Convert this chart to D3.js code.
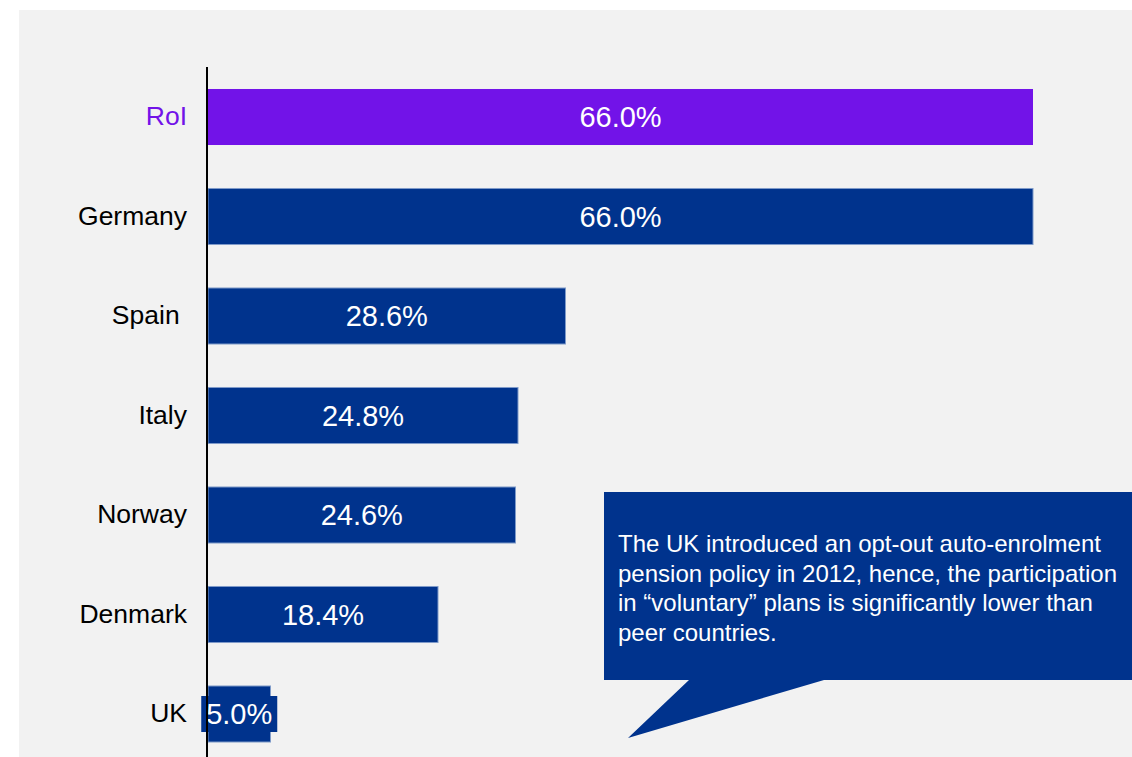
<!DOCTYPE html>
<html>
<head>
<meta charset="utf-8">
<script src="https://cdn.jsdelivr.net/npm/d3@7"></script>
<style>
  body { margin: 0; background: #ffffff; }
  svg { display: block; font-family: "Liberation Sans", Arial, sans-serif; }
</style>
</head>
<body>
<svg id="chart"></svg>
<script>
// categories and values (% participation)
const countries = ["RoI", "Germany", "Spain ", "Italy", "Norway", "Denmark", "UK"];
const values = [66.0, 66.0, 28.6, 24.8, 24.6, 18.4, 5.0];
const highlight = "RoI";
const noteLines = [
  "The UK introduced an opt-out auto-enrolment",
  "pension policy in 2012, hence, the participation",
  "in \u201cvoluntary\u201d plans is significantly lower than",
  "peer countries."
];

const data = countries.map((c, i) => ({ key: c, value: values[i] }));

const width = 1132;
const height = 757;
const navy = "#00338d";
const purple = "#7213e8";

const svg = d3.select("#chart")
    .attr("width", width)
    .attr("height", height);

// grey panel
svg.append("rect")
    .attr("x", 19).attr("y", 10)
    .attr("width", width - 19).attr("height", height - 10)
    .attr("fill", "#f2f2f2");

const x = d3.scaleLinear()
    .domain([0, 66])
    .range([208, 1033]);

const y = d3.scaleBand()
    .domain(countries)
    .range([67.25, 763.75])
    .paddingInner(0.437)
    .paddingOuter(0.2185);

// bars
svg.selectAll(".bar")
    .data(data)
    .enter()
    .append("rect")
    .attr("class", "bar")
    .attr("x", x(0))
    .attr("y", d => y(d.key))
    .attr("width", d => x(d.value) - x(0))
    .attr("height", y.bandwidth())
    .attr("fill", d => d.key === highlight ? purple : navy)
    .attr("stroke", d => d.key === highlight ? "none" : "#7f9bc9")
    .attr("stroke-width", 1);

// label background for the tiny UK bar
const small = data.filter(d => x(d.value) - x(0) < 90);
svg.selectAll(".lblbg")
    .data(small)
    .enter()
    .append("rect")
    .attr("class", "lblbg")
    .attr("x", d => (x(0) + x(d.value)) / 2 - 38)
    .attr("y", d => y(d.key) + y.bandwidth() / 2 - 18)
    .attr("width", 76)
    .attr("height", 36)
    .attr("fill", navy);

// value labels
svg.selectAll(".label")
    .data(data)
    .enter()
    .append("text")
    .attr("class", "label")
    .attr("x", d => (x(0) + x(d.value)) / 2)
    .attr("y", d => y(d.key) + y.bandwidth() / 2)
    .attr("dy", "0.36em")
    .attr("text-anchor", "middle")
    .attr("fill", "#ffffff")
    .style("font-size", "29px")
    .text(d => d3.format(".1f")(d.value) + "%");

// category axis
const axis = svg.append("g")
    .attr("transform", `translate(207,0)`)
    .call(d3.axisLeft(y).tickSize(0).tickPadding(20));
axis.select(".domain").remove();
axis.selectAll("text")
    .style("font-size", "26.5px")
    .style("white-space", "pre")
    .style("font-family", "'Liberation Sans', Arial, sans-serif")
    .attr("fill", d => d === highlight ? purple : "#000000");

svg.append("line")
    .attr("x1", 207).attr("x2", 207)
    .attr("y1", 67).attr("y2", height)
    .attr("stroke", "#000000")
    .attr("stroke-width", 2);

// callout
const note = svg.append("g");
note.append("path")
    .attr("d", "M604,492 L1132,492 L1132,680 L824,680 L628,738 L689,680 L604,680 Z")
    .attr("fill", navy);
note.selectAll("text")
    .data(noteLines)
    .enter()
    .append("text")
    .attr("x", 618)
    .attr("y", (d, i) => 552 + i * 29.5)
    .attr("fill", "#ffffff")
    .style("font-size", "24px")
    .text(d => d);
</script>
</body>
</html>
